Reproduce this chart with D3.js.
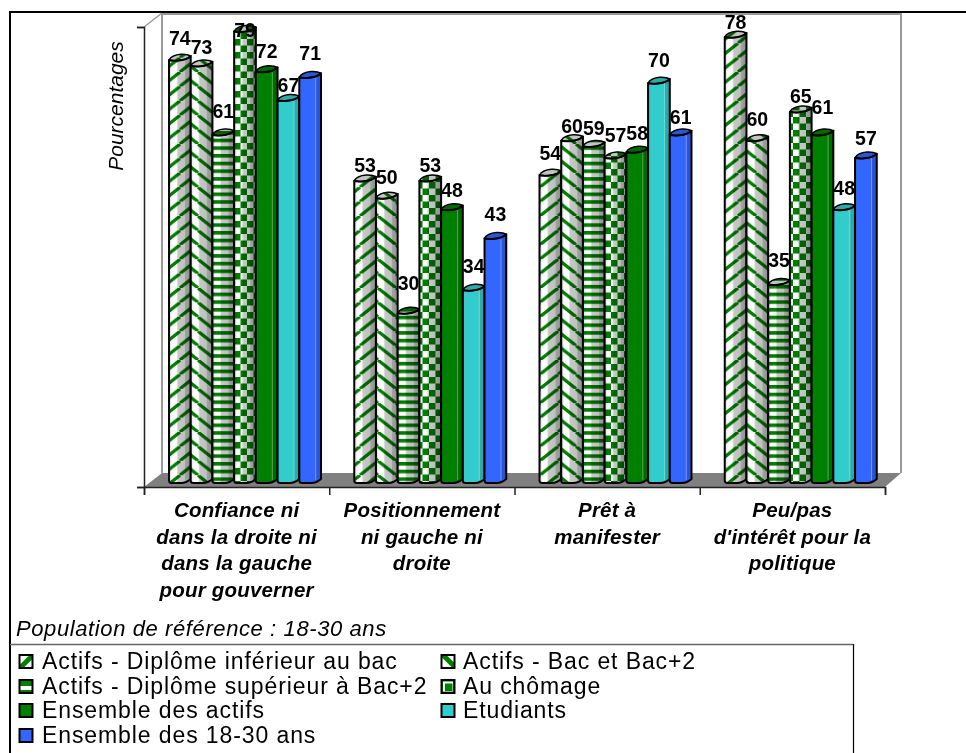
<!DOCTYPE html>
<html><head><meta charset="utf-8">
<script src="https://cdn.jsdelivr.net/npm/d3@7/dist/d3.min.js"></script>
<style>html,body{margin:0;padding:0;background:#fff}svg{display:block}text{font-family:"Liberation Sans",Arial,sans-serif;fill:#000}</style>
</head><body><svg id="c" width="966" height="753"></svg>
<script>
const categories=[["Confiance ni","dans la droite ni","dans la gauche","pour gouverner"],["Positionnement","ni gauche ni","droite"],["Prêt à","manifester"],["Peu/pas","d'intérêt pour la","politique"]];
const seriesNames=["Actifs - Diplôme inférieur au bac","Actifs - Bac et Bac+2","Actifs - Diplôme supérieur à Bac+2","Au chômage","Ensemble des actifs","Etudiants","Ensemble des 18-30 ans"];
const actifsInf=[74,53,54,78];
const actifsBac=[73,50,60,60];
const actifsSup=[61,30,59,35];
const chomage=[79,53,57,65];
const ensembleActifs=[72,48,58,61];
const etudiants=[67,34,70,48];
const ensemble1830=[71,43,61,57];
const seriesValues=[actifsInf,actifsBac,actifsSup,chomage,ensembleActifs,etudiants,ensemble1830];
const axisTitle="Pourcentages";
const caption="Population de référence : 18-30 ans";
const yTicks=[0,80];
const fills=["url(#pUp)","url(#pDown)","url(#pH)","url(#pCheck)","#008000","#33cccc","#3366ff"];
const legendFills=["url(#lUp)","url(#lDown)","url(#lH)","url(#lCheck)","#008000","#33cccc","#3366ff"];
const isPattern=[true,true,true,true,false,false,false];
const labelLift=[[12.5,6.5,13,5.5],[9,11.5,5,12.5],[14,21,9,15],[-8,6.5,13,6],[11,10,9.5,18],[6,15,13.5,12.5],[15,15,8.5,10]];

const svg=d3.select("#c");
const defs=svg.append("defs");
const G="#008000";
function stripePattern(id,w,h,dir,sw){
  const p=defs.append("pattern").attr("id",id).attr("patternUnits","userSpaceOnUse").attr("width",w).attr("height",h);
  p.append("rect").attr("width",w).attr("height",h).attr("fill","#fff");
  [-1,0,1].forEach(k=>{
    const a=dir>0?[k*w,h,(k+1)*w,0]:[k*w,0,(k+1)*w,h];
    p.append("line").attr("x1",a[0]).attr("y1",a[1]).attr("x2",a[2]).attr("y2",a[3]).attr("stroke",G).attr("stroke-width",sw);
  });
}
stripePattern("pUp",18,14.4,1,3.2);
stripePattern("pDown",18,14.4,-1,3.2);
stripePattern("lUp",16,16,1,5);
stripePattern("lDown",16,16,-1,5);
let ph=defs.append("pattern").attr("id","pH").attr("patternUnits","userSpaceOnUse").attr("width",10).attr("height",7.7);
ph.append("rect").attr("width",10).attr("height",7.7).attr("fill","#fff");
ph.append("rect").attr("width",10).attr("height",3.6).attr("fill",G);
ph=defs.append("pattern").attr("id","lH").attr("patternUnits","userSpaceOnUse").attr("width",10).attr("height",12).attr("y",660);
ph.append("rect").attr("width",10).attr("height",12).attr("fill",G);
ph.append("rect").attr("y",4).attr("width",10).attr("height",4).attr("fill","#fff");
let pc=defs.append("pattern").attr("id","pCheck").attr("patternUnits","userSpaceOnUse").attr("width",13).attr("height",13);
pc.append("rect").attr("width",13).attr("height",13).attr("fill","#fff");
pc.append("rect").attr("width",6.5).attr("height",6.5).attr("fill",G);
pc.append("rect").attr("x",6.5).attr("y",6.5).attr("width",6.5).attr("height",6.5).attr("fill",G);
defs.append("linearGradient").attr("id","lCheck").call(g=>{g.append("stop").attr("offset",0).attr("stop-color",G);g.append("stop").attr("offset",1).attr("stop-color",G);});
function grad(id,stops){
  const g=defs.append("linearGradient").attr("id",id);
  stops.forEach(s=>g.append("stop").attr("offset",s[0]).attr("stop-color",s[1]));
}
grad("shadeP",[[0,"#d8d8d8"],[.16,"#ffffff"],[.34,"#ffffff"],[.42,"#c8c8c8"],[.72,"#c0c0c0"],[.76,"#a2a2a2"],[1,"#8e8e8e"]]);
grad("shadeS",[[0,"#e8e8e8"],[.08,"#ffffff"],[.74,"#ffffff"],[.78,"#d8d8d8"],[1,"#d0d0d0"]]);

const y=d3.scaleLinear().domain(d3.extent(yTicks)).range([487,27]);
const xBand=d3.scaleBand().domain(d3.range(categories.length)).range([144,885]);
const xInner=d3.scaleBand().domain(d3.range(seriesNames.length)).range([25,177]);
const xEdges=d3.scaleLinear().domain([0,categories.length]).range([144,885]);

svg.append("path").attr("d","M10,753V12H966").attr("fill","none").attr("stroke","#000").attr("stroke-width",2);

const wallX0=162,wallX1=901,wallTop=14,wallBot=473;
svg.append("path").attr("d",`M${wallX0},${wallBot}V${wallTop}H${wallX1}V${wallBot}`).attr("fill","none").attr("stroke","#999").attr("stroke-width",2);
svg.append("path").attr("d",`M144,27L${wallX0},${wallTop-1}`).attr("stroke","#999").attr("stroke-width",1.5).attr("fill","none");
svg.append("path").attr("d",`M144,487L${wallX0},${wallBot}H${wallX1}L885,487Z`).attr("fill","#808080");

const ax=svg.append("g").attr("transform","translate(144,0)").call(d3.axisLeft(y).tickValues(yTicks).tickSize(7).tickFormat(""));
const bx=svg.append("g").attr("transform","translate(0,487)").call(d3.axisBottom(xEdges).ticks(categories.length).tickSizeOuter(0).tickSize(8).tickFormat(""));
[ax,bx].forEach(g=>{g.selectAll("path,line").attr("stroke","#222").attr("stroke-width",1.5);});

const base=y(0)-4;
function bodyPath(x0,x1,t){
  const w=x1-x0;
  return `M${x0},${t+2.5}V${base-2.5}Q${x0},${base} ${x0+3},${base}`+
   `H${x0+w*.55}Q${x0+w*.8},${base} ${x1},${base-4}V${t-1.5}`+
   `Q${x0+w*.8},${t+2.5} ${x0+w*.45},${t+3}Q${x0+w*.12},${t+3.5} ${x0},${t+2.5}Z`;
}
function topPath(x0,x1,t){
  const w=x1-x0;
  return `M${x0},${t+2.5}Q${x0+w*.12},${t+3.5} ${x0+w*.45},${t+3}Q${x0+w*.8},${t+2.5} ${x1},${t-1.5}`+
   `Q${x0+w*.85},${t-3.5} ${x0+w*.55},${t-3.2}Q${x0+w*.12},${t-2.5} ${x0},${t+2.5}Z`;
}
const rows=seriesValues.flatMap((vals,s)=>vals.map((v,c)=>({s,c,v,x0:xBand(c)+xInner(s),x1:xBand(c)+xInner(s)+xInner.bandwidth(),t:y(v)-4})));
const order=rows.slice().sort((a,b)=>a.c-b.c||a.s-b.s);
const bars=svg.append("g").selectAll("g").data(order).join("g");
bars.append("path").attr("d",d=>bodyPath(d.x0,d.x1,d.t)).attr("fill",d=>fills[d.s]);
bars.append("path").attr("d",d=>bodyPath(d.x0,d.x1,d.t)).attr("fill",d=>isPattern[d.s]?"url(#shadeP)":"url(#shadeS)").style("mix-blend-mode","multiply");
bars.filter(d=>!isPattern[d.s]).append("line").attr("x1",d=>d.x0+(d.x1-d.x0)*.76).attr("x2",d=>d.x0+(d.x1-d.x0)*.76)
  .attr("y1",d=>d.t+3).attr("y2",base-3).attr("stroke","#fff").attr("stroke-opacity",.35).attr("stroke-width",1);
bars.append("path").attr("d",d=>topPath(d.x0,d.x1,d.t)).attr("fill",d=>fills[d.s]);
bars.append("path").attr("d",d=>topPath(d.x0,d.x1,d.t)).attr("fill",d=>isPattern[d.s]?"#c4c4c4":"#d6d6d6").style("mix-blend-mode","multiply");
bars.append("path").attr("d",d=>bodyPath(d.x0,d.x1,d.t)).attr("fill","none").attr("stroke","#000").attr("stroke-width",2).attr("stroke-linejoin","round");
bars.append("path").attr("d",d=>topPath(d.x0,d.x1,d.t)).attr("fill","none").attr("stroke","#000").attr("stroke-width",1.5);

svg.append("g").selectAll("text").data(order).join("text")
  .attr("x",d=>(d.x0+d.x1)/2).attr("y",d=>d.t-labelLift[d.s][d.c]).attr("text-anchor","middle")
  .attr("font-size",19.5).attr("font-weight","bold").text(d=>d3.format("d")(d.v));

svg.append("g").selectAll("text").data(categories).join("text")
  .attr("text-anchor","middle").attr("font-size",20.5).attr("letter-spacing",.2).attr("font-weight","bold").attr("font-style","italic")
  .selectAll("tspan").data((d,i)=>d.map((t,j)=>({t,j,i}))).join("tspan")
  .attr("x",d=>xBand(d.i)+xBand.bandwidth()/2).attr("y",d=>517+d.j*26.5).text(d=>d.t);

svg.append("text").attr("transform","translate(123,106) rotate(-90)").attr("text-anchor","middle")
  .attr("font-size",21).attr("font-style","italic").text(axisTitle);
svg.append("text").attr("x",16).attr("y",636).attr("font-size",22).attr("letter-spacing",.6).attr("font-style","italic").text(caption);

svg.append("path").attr("d","M10,644.5H853").attr("stroke","#666").attr("stroke-width",1.5);
svg.append("path").attr("d","M853.5,644V753").attr("stroke","#000").attr("stroke-width",1.2);
const legX=[19,441],legY=[669,694,718,743];
const leg=svg.append("g").selectAll("g").data(seriesNames).join("g")
  .attr("transform",(d,i)=>`translate(${legX[i%2]},${legY[Math.floor(i/2)]})`);
leg.append("rect").attr("x",.5).attr("y",-14).attr("width",13).attr("height",13)
  .attr("fill",(d,i)=>legendFills[i]).attr("stroke","#000").attr("stroke-width",2);
leg.filter((d,i)=>i===3).append("rect").attr("x",2).attr("y",-12.5).attr("width",10).attr("height",10).attr("fill","#fff");
leg.filter((d,i)=>i===3).append("rect").attr("x",4).attr("y",-10.5).attr("width",7.5).attr("height",7.5).attr("fill",G);
leg.append("text").attr("x",(d,i)=>i%2?22:23).attr("y",0).attr("font-size",23).attr("letter-spacing",.9).text(d=>d);
</script></body></html>
